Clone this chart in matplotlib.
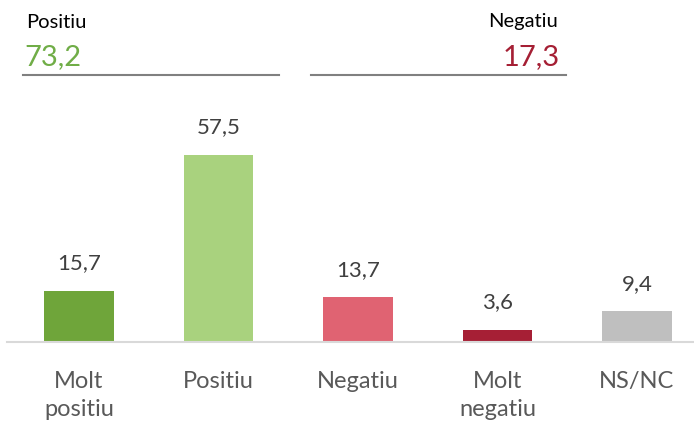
import matplotlib
matplotlib.use("Agg")
import matplotlib.pyplot as plt
from matplotlib.lines import Line2D

# ---------------------------------------------------------------------------
# Data
# ---------------------------------------------------------------------------
categories = ["Molt\npositiu", "Positiu", "Negatiu", "Molt\nnegatiu", "NS/NC"]
values = [15.7, 57.5, 13.7, 3.6, 9.4]
bar_colors = ["#6FA53A", "#A9D27E", "#E06372", "#A61F35", "#BFBFBF"]

summary_labels = ["Positiu", "Negatiu"]
summary_values = [73.2, 17.3]
summary_colors = ["#70AD47", "#A51F34"]


def fmt(v):
    return f"{v:.1f}".replace(".", ",")


plt.rcParams["font.family"] = ["Lato", "DejaVu Sans"]

W, H = 694, 421
fig = plt.figure(figsize=(W / 100, H / 100), dpi=100)


def fx(px):
    return px / W


def fy(py):
    return 1 - py / H


# axes placed so the baseline sits at y=342 px and bars are 139.5 px apart
x0, x1 = 7, 694
y_base, y_top = 342, 100
ax = fig.add_axes([fx(x0), fy(y_base), fx(x1 - x0), (y_base - y_top) / H])
ax.set_xlim((x0 - 79) / 139.5, (x1 - 79) / 139.5)
ax.set_ylim(0, (y_base - y_top) / 3.25)

pos = list(range(len(values)))
bars = ax.bar(pos, values, width=0.5, color=bar_colors, zorder=2)

for x, v in zip(pos, values):
    ax.annotate(fmt(v), (x, v), xytext=(0, 20), textcoords="offset points",
                ha="center", va="center", fontsize=16, color="#404040")

ax.set_xticks(pos)
ax.set_xticklabels(categories, fontsize=17, color="#595959", linespacing=1.4)
ax.tick_params(axis="x", length=0, pad=21)
ax.set_yticks([])
for s in ["top", "right", "left"]:
    ax.spines[s].set_visible(False)
ax.spines["bottom"].set_color("#D9D9D9")
ax.spines["bottom"].set_linewidth(1.5)

# ---------------------------------------------------------------------------
# Header summary (Positiu / Negatiu totals)
# ---------------------------------------------------------------------------
fig.text(fx(26), fy(22), summary_labels[0], fontsize=14.5, color="black",
         ha="left", va="center")
fig.text(fx(24), fy(57), fmt(summary_values[0]), fontsize=21,
         color=summary_colors[0], ha="left", va="center")
fig.text(fx(558), fy(22), summary_labels[1], fontsize=14.5, color="black",
         ha="right", va="center")
fig.text(fx(560), fy(57), fmt(summary_values[1]), fontsize=21,
         color=summary_colors[1], ha="right", va="center")

for xa, xb in [(23, 279), (311, 566)]:
    fig.add_artist(Line2D([fx(xa), fx(xb)], [fy(75), fy(75)],
                          color="#808080", linewidth=1.5))

fig.savefig("out.png", dpi=100)
